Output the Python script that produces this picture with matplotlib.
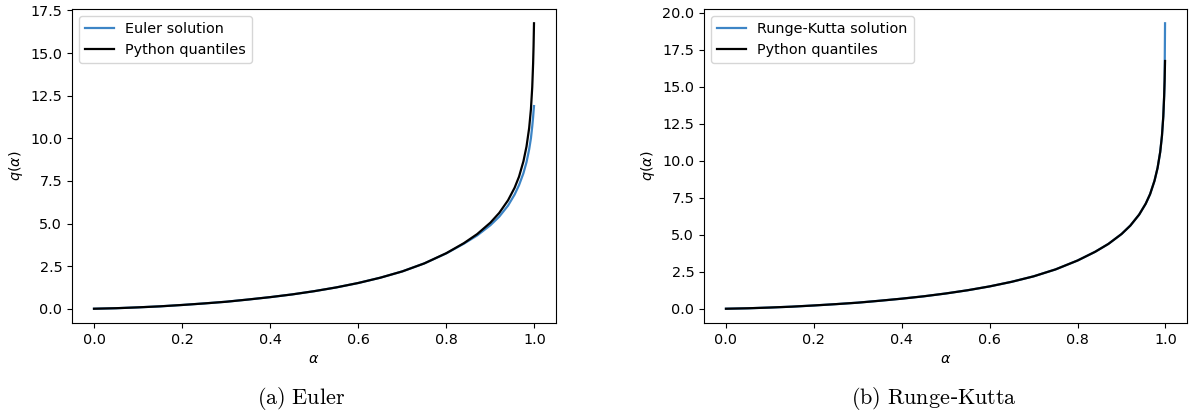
import matplotlib
matplotlib.use("Agg")
import matplotlib.pyplot as plt

plt.rcParams["mathtext.fontset"] = "dejavusans"

# quantile levels
alpha = [0.0, 0.05, 0.1, 0.15, 0.2, 0.25, 0.3, 0.35, 0.4, 0.45, 0.5, 0.55,
         0.6, 0.65, 0.7, 0.75, 0.8, 0.84, 0.87, 0.9, 0.92, 0.94, 0.955,
         0.965, 0.975, 0.982, 0.988, 0.992, 0.995, 0.997, 0.998, 0.999]

# reference quantiles
python_q = [0.0, 0.03, 0.08, 0.14, 0.22, 0.31, 0.41, 0.54, 0.68, 0.84, 1.03,
            1.25, 1.51, 1.82, 2.19, 2.66, 3.26, 3.85, 4.38, 5.05, 5.62, 6.36,
            7.10, 7.75, 8.65, 9.52, 10.6, 11.7, 13.0, 14.4, 15.4, 16.75]

# Euler scheme solution
euler_q = [0.0, 0.03, 0.08, 0.14, 0.22, 0.31, 0.41, 0.54, 0.68, 0.84, 1.03,
           1.25, 1.51, 1.82, 2.19, 2.66, 3.25, 3.82, 4.30, 4.90, 5.40, 6.05,
           6.70, 7.25, 7.95, 8.6, 9.35, 10.0, 10.7, 11.25, 11.6, 11.89]

# Runge-Kutta scheme solution
rk_q = [0.0, 0.03, 0.08, 0.14, 0.22, 0.31, 0.41, 0.54, 0.68, 0.84, 1.03,
        1.25, 1.51, 1.82, 2.19, 2.66, 3.26, 3.85, 4.38, 5.05, 5.62, 6.36,
        7.10, 7.75, 8.65, 9.52, 10.6, 11.7, 13.0, 14.4, 15.4, 19.3]

solution_labels = ["Euler solution", "Runge-Kutta solution"]
captions = [r"$\mathrm{(a)\ Euler}$", r"$\mathrm{(b)\ Runge}$-$\mathrm{Kutta}$"]

W, H = 1197, 413
fig = plt.figure(figsize=(W / 100, H / 100), dpi=100)

axes_px = [(72, 9, 556, 323), (704, 9, 1187, 323)]
caption_x = [301, 934]
fs = 10.4

for i, (x0, y0, x1, y1) in enumerate(axes_px):
    ax = fig.add_axes([x0 / W, (H - y1) / H, (x1 - x0) / W, (y1 - y0) / H])
    sol = [euler_q, rk_q][i]
    ax.plot(alpha, sol, color="#3d85c6", lw=1.6, label=solution_labels[i])
    ax.plot(alpha, python_q, color="black", lw=1.6, label="Python quantiles")
    ax.set_xlabel(r"$\alpha$", fontsize=fs)
    ax.set_ylabel(r"$q(\alpha)$", fontsize=fs)
    ax.tick_params(labelsize=fs)
    ax.legend(loc="upper left", fontsize=fs)
    fig.text(caption_x[i] / W, 1 - 398 / H, captions[i], ha="center",
             va="center", fontsize=16, math_fontfamily="cm")

fig.savefig("out.png", dpi=100)
